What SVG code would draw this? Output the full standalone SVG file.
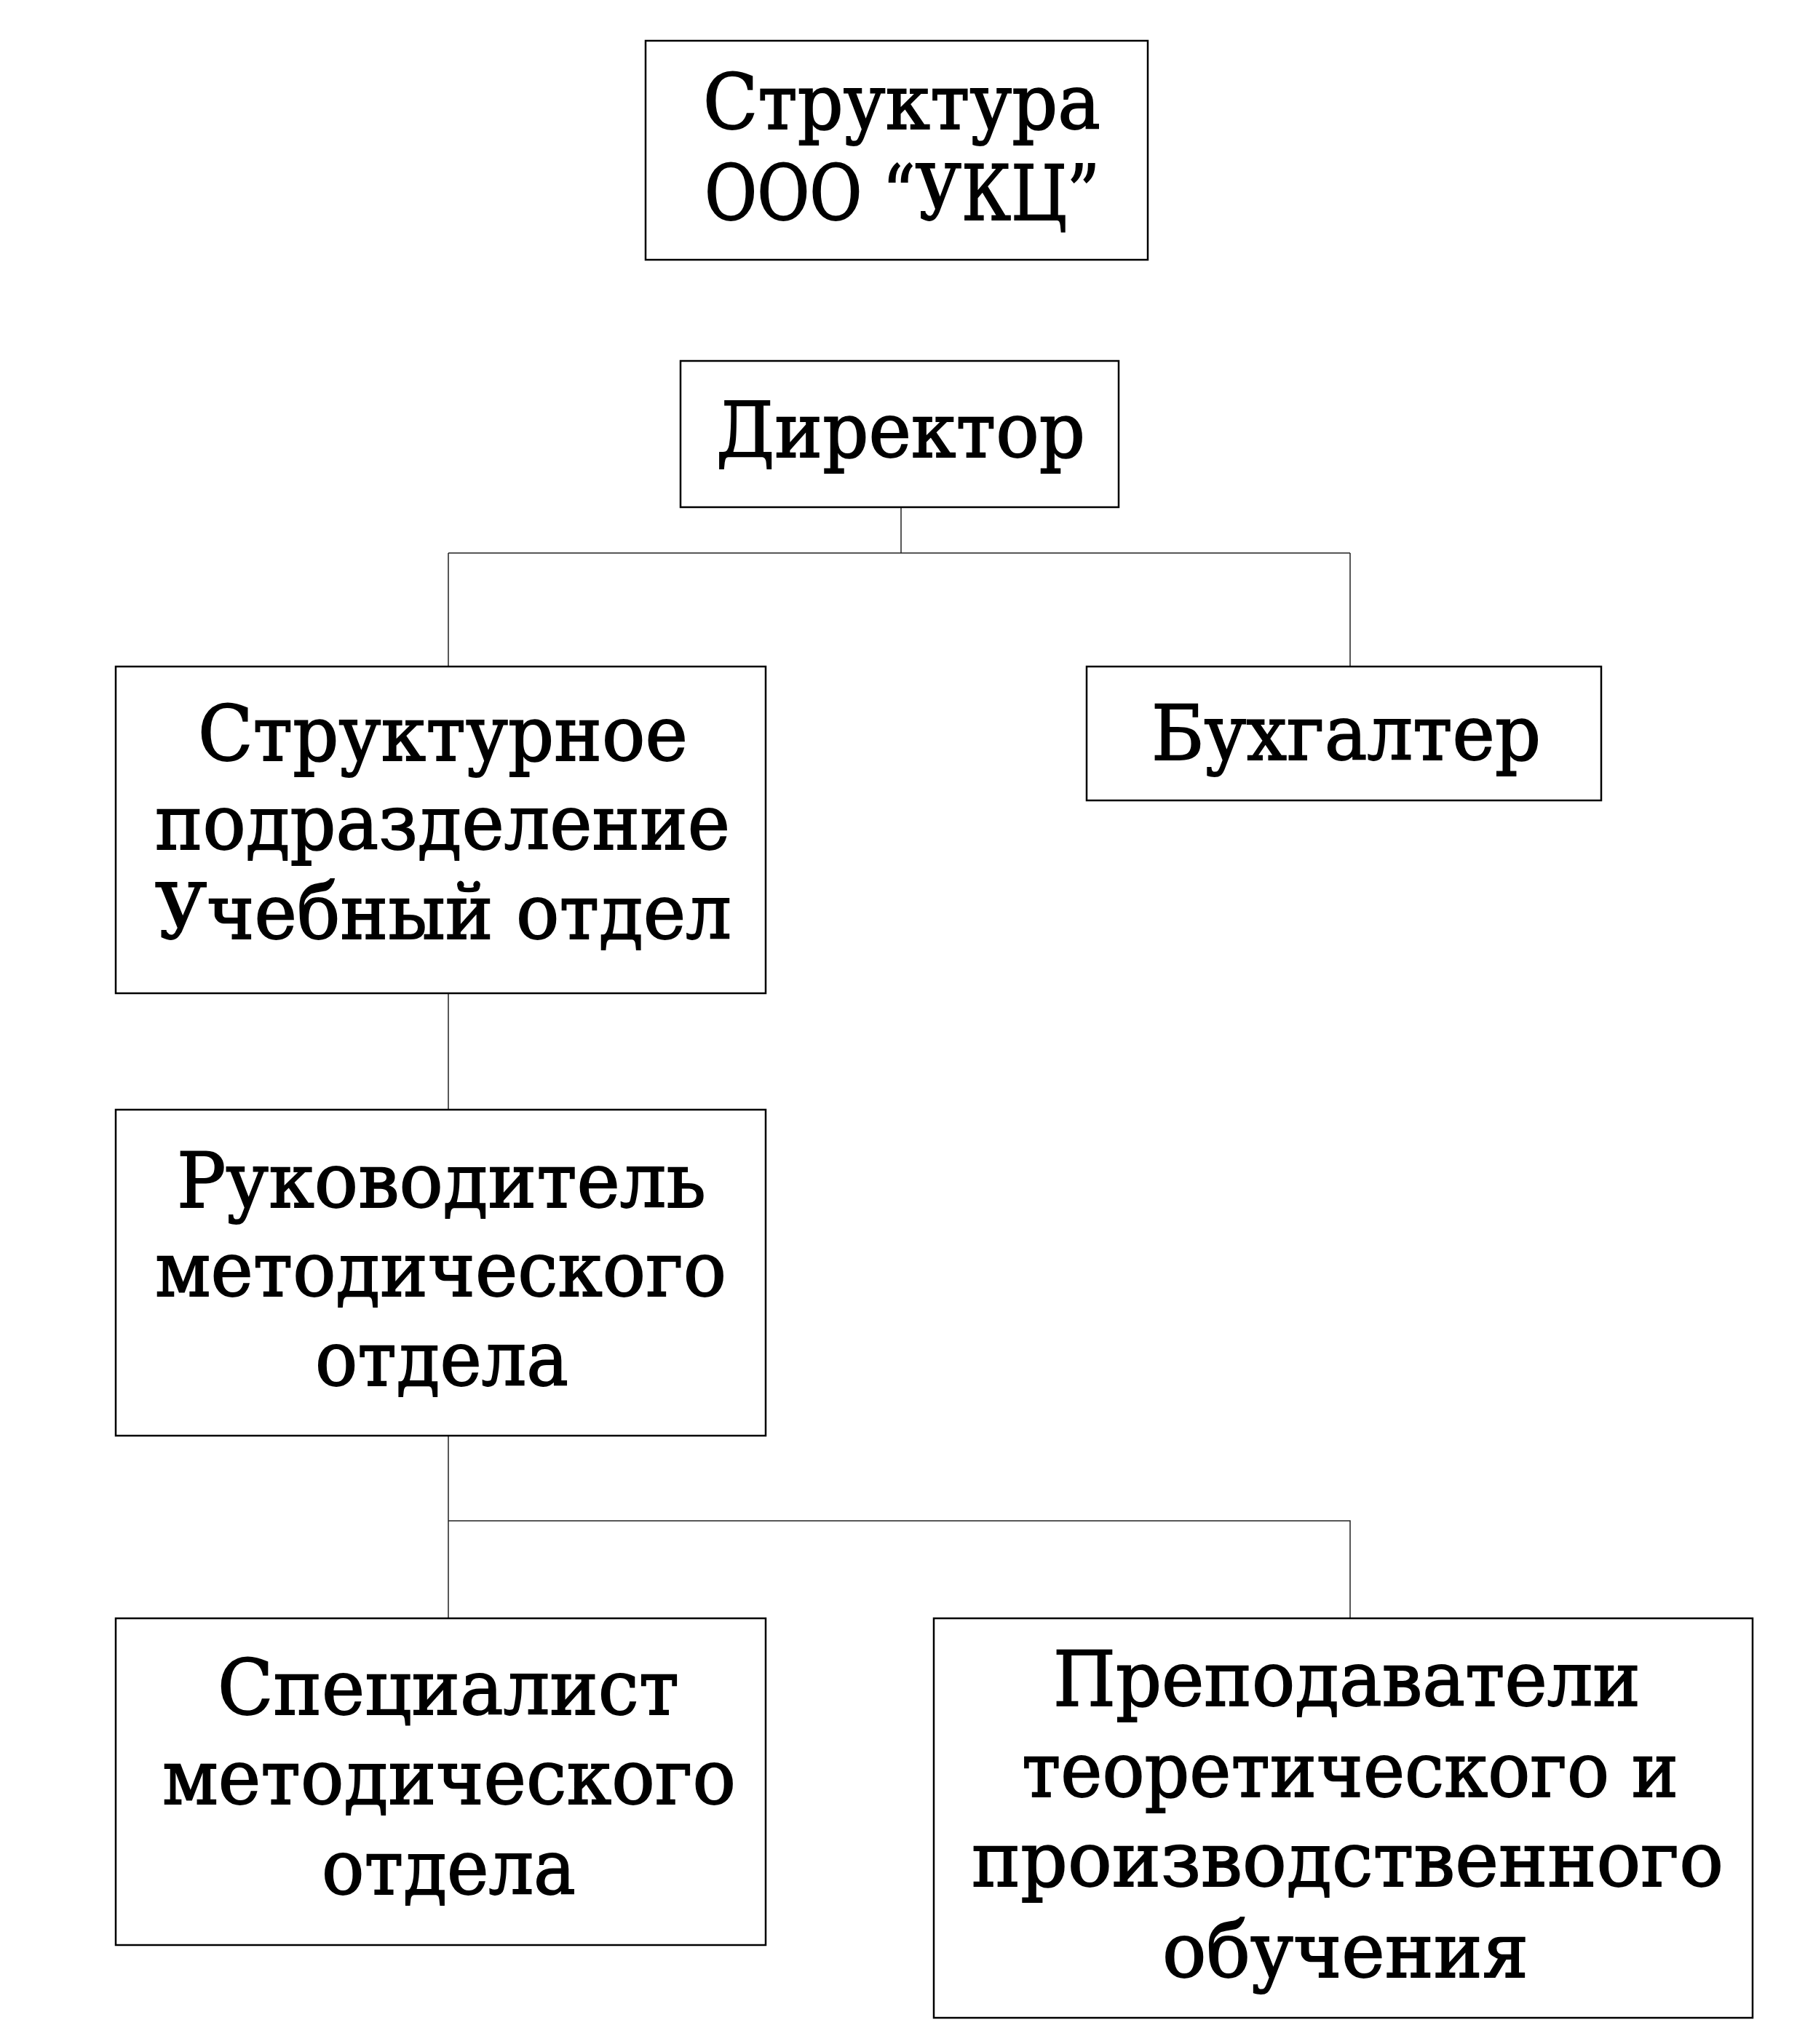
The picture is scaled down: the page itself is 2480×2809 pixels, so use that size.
<svg xmlns="http://www.w3.org/2000/svg" width="2480" height="2809" viewBox="0 0 2480 2809">
<style>
.box{fill:#fff;stroke:#000;stroke-width:2.5}
.conn{fill:none;stroke:#222;stroke-width:1.5}
text{font-family:"DejaVu Serif","Liberation Serif",serif;font-size:104px;fill:#000;stroke:#000;stroke-width:1.8}
</style>
<rect width="2480" height="2809" fill="#fff"/>
<g id="connectors">
<path class="conn" d="M1238 697 V760 M616 760 H1855 M616 760 V916 M1855 760 V916"/>
<path class="conn" d="M616 1365 V1525"/>
<path class="conn" d="M616 1973 V2090 H1855 V2224 M616 2090 V2224"/>
</g>
<g id="title">
<rect class="box" x="887" y="56" width="690" height="301"/>
<text x="966" y="177" textLength="546" lengthAdjust="spacingAndGlyphs">Структура</text>
<text x="968" y="302" textLength="543" lengthAdjust="spacingAndGlyphs">ООО “УКЦ”</text>
</g>
<g id="director">
<rect class="box" x="935" y="496" width="602" height="201"/>
<text x="984" y="628" textLength="507" lengthAdjust="spacingAndGlyphs">Директор</text>
</g>
<g id="uchebny">
<rect class="box" x="159" y="916" width="893" height="449"/>
<text x="272" y="1045" textLength="673" lengthAdjust="spacingAndGlyphs">Структурное</text>
<text x="213" y="1167" textLength="790" lengthAdjust="spacingAndGlyphs">подразделение</text>
<text x="213" y="1290" textLength="792" lengthAdjust="spacingAndGlyphs">Учебный отдел</text>
</g>
<g id="buhgalter">
<rect class="box" x="1493" y="916" width="707" height="184"/>
<text x="1582" y="1044" textLength="535" lengthAdjust="spacingAndGlyphs">Бухгалтер</text>
</g>
<g id="rukovoditel">
<rect class="box" x="159" y="1525" width="893" height="448"/>
<text x="243" y="1659" textLength="727" lengthAdjust="spacingAndGlyphs">Руководитель</text>
<text x="213" y="1781" textLength="785" lengthAdjust="spacingAndGlyphs">методического</text>
<text x="433" y="1904" textLength="348" lengthAdjust="spacingAndGlyphs">отдела</text>
</g>
<g id="specialist">
<rect class="box" x="159" y="2224" width="893" height="449"/>
<text x="299" y="2356" textLength="634" lengthAdjust="spacingAndGlyphs">Специалист</text>
<text x="223" y="2479" textLength="788" lengthAdjust="spacingAndGlyphs">методического</text>
<text x="442" y="2603" textLength="349" lengthAdjust="spacingAndGlyphs">отдела</text>
</g>
<g id="prepodavateli">
<rect class="box" x="1283" y="2224" width="1125" height="549"/>
<text x="1447" y="2344" textLength="807" lengthAdjust="spacingAndGlyphs">Преподаватели</text>
<text x="1404" y="2469" textLength="902" lengthAdjust="spacingAndGlyphs">теоретического и</text>
<text x="1335" y="2592" textLength="1033" lengthAdjust="spacingAndGlyphs">производственного</text>
<text x="1597" y="2717" textLength="503" lengthAdjust="spacingAndGlyphs">обучения</text>
</g>
</svg>
